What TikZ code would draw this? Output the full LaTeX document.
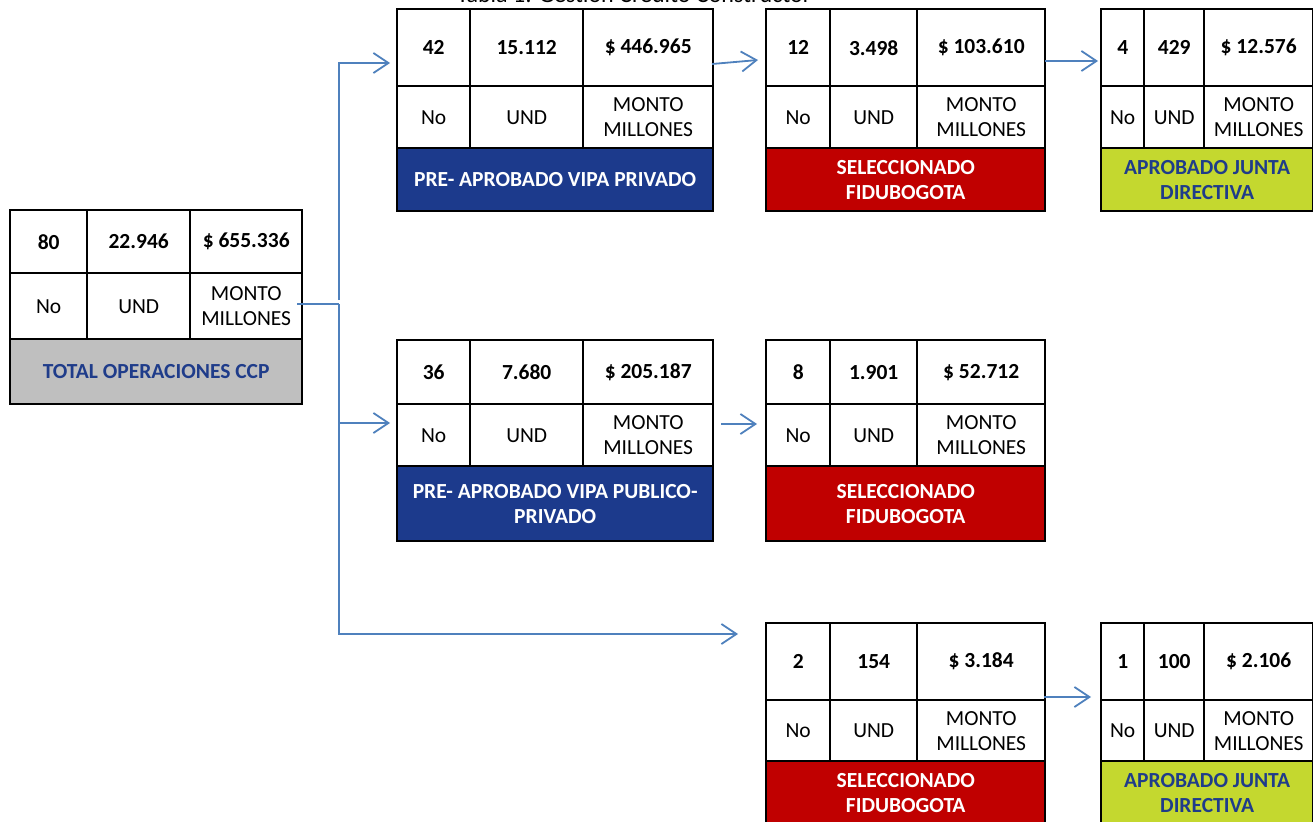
\documentclass[tikz,border=0pt]{standalone}
\usepackage{fontspec}
\setmainfont{Carlito}
\usetikzlibrary{arrows.meta}

\definecolor{linkblue}{HTML}{4F81BD}
\definecolor{vipablue}{HTML}{1C3A8C}
\definecolor{fiducred}{HTML}{C00000}
\definecolor{juntagreen}{HTML}{C4D82F}
\definecolor{totalgray}{HTML}{BFBFBF}
\definecolor{labelblue}{HTML}{1F3C8A}

\tikzset{
  cellbox/.style={rectangle, draw=black, line width=2.4pt, inner sep=0pt,
    anchor=north west, align=center, fill=white,
    font=\fontsize{21.5}{25}\selectfont},
  numcell/.style={cellbox, font=\fontsize{21.5}{25}\selectfont\bfseries},
  bandcell/.style={cellbox, font=\fontsize{21.5}{25}\selectfont\bfseries},
  totalband/.style={bandcell, fill=totalgray, text=labelblue},
  vipaband/.style={bandcell, fill=vipablue, text=white},
  fiduband/.style={bandcell, fill=fiducred, text=white},
  juntaband/.style={bandcell, fill=juntagreen, text=labelblue},
  link/.style={draw=linkblue, line width=1.8pt,
    -{Straight Barb[length=15pt,width=20pt]}},
  linkline/.style={draw=linkblue, line width=1.8pt}
}

% geometry list: x0,x1,x2,x3,y0,y1,y2,y3 (column and row boundaries)
\def\ccpgeom#1,#2,#3,#4,#5,#6,#7,#8;{%
  \def\tXa{#1}\def\tXb{#2}\def\tXc{#3}\def\tXd{#4}%
  \def\tYa{#5}\def\tYb{#6}\def\tYc{#7}\def\tYd{#8}}
% values: count / units / amount
\def\ccpvals#1/#2/#3;{\def\tvN{#1}\def\tvU{#2}\def\tvM{#3}}

% \ccptable{name}{geometry}{values}{band style}{band text}
\newcommand\ccptable[5]{%
  \ccpgeom#2;\ccpvals#3;%
  \node[numcell, minimum width={(\tXb-\tXa)*1pt}, minimum height={(\tYb-\tYa)*1pt}]
    (#1-n) at (\tXa,\tYa) {\tvN};
  \node[numcell, minimum width={(\tXc-\tXb)*1pt}, minimum height={(\tYb-\tYa)*1pt}]
    (#1-u) at (\tXb,\tYa) {\tvU};
  \node[numcell, minimum width={(\tXd-\tXc)*1pt}, minimum height={(\tYb-\tYa)*1pt}]
    (#1-m) at (\tXc,\tYa) {\tvM};
  \node[cellbox, minimum width={(\tXb-\tXa)*1pt}, minimum height={(\tYc-\tYb)*1pt}]
    (#1-no) at (\tXa,\tYb) {No};
  \node[cellbox, minimum width={(\tXc-\tXb)*1pt}, minimum height={(\tYc-\tYb)*1pt}]
    (#1-und) at (\tXb,\tYb) {UND};
  \node[cellbox, minimum width={(\tXd-\tXc)*1pt}, minimum height={(\tYc-\tYb)*1pt}]
    (#1-monto) at (\tXc,\tYb) {MONTO\\MILLONES};
  \node[#4, minimum width={(\tXd-\tXa)*1pt}, minimum height={(\tYd-\tYc)*1pt}]
    (#1-band) at (\tXa,\tYc) {#5};
}

\begin{document}
\begin{tikzpicture}[x=1pt,y=-1pt]
\useasboundingbox (0,0) rectangle (1313,821);
\clip (0,0) rectangle (1313,821);

% caption above the chart, running off the top of the page
\node[anchor=base, inner sep=0pt, font=\fontsize{24}{28}\selectfont]
  (caption) at (634,3) {Tabla 1: Gestión Crédito Constructor};

% tables
\ccptable{tot}{9,86,189,301,209,272,338,403}{80/22.946/\$ 655.336}
  {totalband}{TOTAL OPERACIONES CCP}
\ccptable{priv}{396,469,582,712,8,85,147,210}{42/15.112/\$ 446.965}
  {vipaband}{PRE- APROBADO VIPA PRIVADO}
\ccptable{selA}{765,829,916,1044,8,85,147,210}{12/3.498/\$ 103.610}
  {fiduband}{SELECCIONADO\\FIDUBOGOTA}
\ccptable{aprA}{1100,1143,1203,1312,8,85,147,210}{4/429/\$ 12.576}
  {juntaband}{APROBADO JUNTA\\DIRECTIVA}
\ccptable{pub}{396,469,582,712,339,403,465,540}{36/7.680/\$ 205.187}
  {vipaband}{PRE- APROBADO VIPA PUBLICO-\\PRIVADO}
\ccptable{selB}{765,829,916,1044,339,403,465,540}{8/1.901/\$ 52.712}
  {fiduband}{SELECCIONADO\\FIDUBOGOTA}
\ccptable{selC}{765,829,916,1044,622,699,760,824}{2/154/\$ 3.184}
  {fiduband}{SELECCIONADO\\FIDUBOGOTA}
\ccptable{aprC}{1100,1143,1203,1312,622,699,760,824}{1/100/\$ 2.106}
  {juntaband}{APROBADO JUNTA\\DIRECTIVA}

% connector end points
\coordinate (tot-out) at (297,304);
\coordinate (bus) at (339,304);
\coordinate (bus-up) at (339,300);
\coordinate (priv-in) at (390,63);
\coordinate (pub-in) at (390,423);
\coordinate (selC-in) at (738,634);
\coordinate (priv-out) at (712,64);
\coordinate (selA-in) at (758,60);
\coordinate (selA-out) at (1045,61);
\coordinate (aprA-in) at (1098,61);
\coordinate (pub-out) at (721,424);
\coordinate (selB-in) at (757,424);
\coordinate (selC-out) at (1044,697);
\coordinate (aprC-in) at (1091,697);

% branching from the total
\draw[linkline] (tot-out) -- (bus);
\draw[link] (bus) |- (selC-in);
\draw[link] (bus-up) |- (priv-in);
\draw[link] (bus |- pub-in) -- (pub-in);

% flow between stages
\draw[link] (priv-out) -- (selA-in);
\draw[link] (selA-out) -- (aprA-in);
\draw[link] (pub-out) -- (selB-in);
\draw[link] (selC-out) -- (aprC-in);
\end{tikzpicture}
\end{document}
